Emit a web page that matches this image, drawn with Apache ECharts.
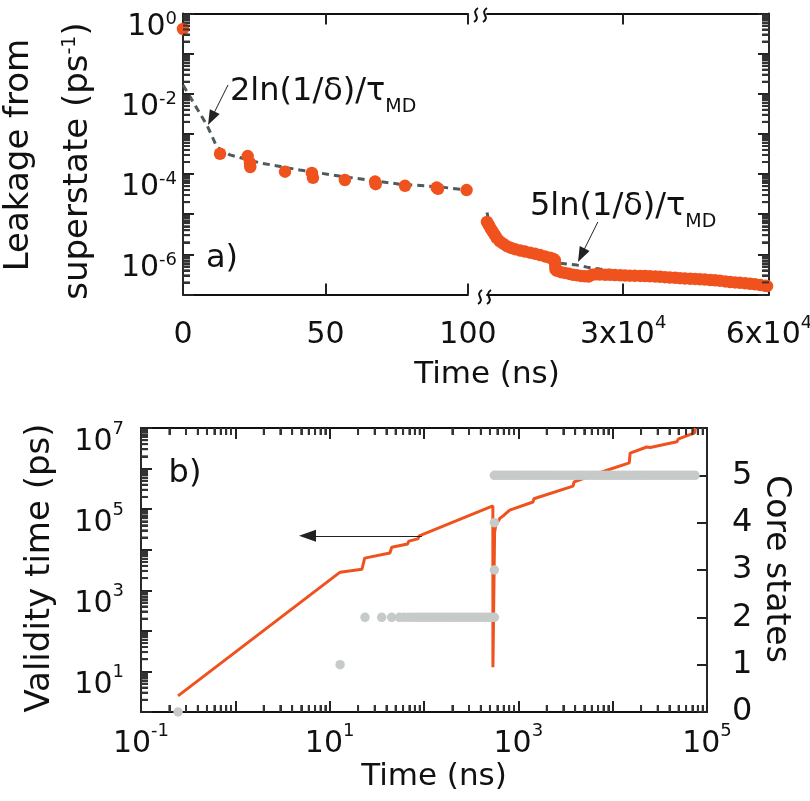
<!DOCTYPE html>
<html><head><meta charset="utf-8">
<script src="https://cdn.jsdelivr.net/npm/echarts@6/dist/echarts.min.js"></script>
<style>html,body{margin:0;padding:0;background:#fff}#c{width:810px;height:801px}</style>
</head><body><div id="c"></div>
<script>
const FONT = 'DejaVu Sans';
const ORANGE = '#f0521e';
const DASH = '#4e5a5d';
const GREY = '#c6cbc9';
const INK = '#111111';

// ---- Panel a, left segment (0-100 ns) ----
const leftDotTime = [0, 13, 22.7, 23.5, 23.6, 35.8, 45.2, 45.6, 56.8, 67.4, 67.6, 77.9, 89, 89.5, 99.5];
const leftDotLeak = [0.41, 3.2e-4, 2.8e-4, 1.9e-4, 1.5e-4, 1.15e-4, 1.07e-4, 8.1e-5, 7.1e-5, 6.5e-5, 5.6e-5, 5.1e-5, 4.6e-5, 4.3e-5, 4.0e-5];
const leftFitTime = [0, 8.4, 11.9, 16.5, 27, 41, 57, 76, 90, 99.5];
const leftFitLeak = [1.65e-2, 1.66e-3, 4.7e-4, 3.0e-4, 1.9e-4, 1.26e-4, 8.5e-5, 5.6e-5, 4.8e-5, 4.0e-5];

// ---- Panel a, right segment (to 6x10^4 ns) ----
const rightDots = [
  [2000,6.4e-6],[2400,5.3e-6],[2800,4.3e-6],[3200,3.6e-6],[3650,3.0e-6],[4050,2.5e-6],[4650,2.1e-6],
  [5300,1.85e-6],[6100,1.6e-6],[6950,1.45e-6],[7750,1.35e-6],[8800,1.25e-6],[9800,1.17e-6],[10850,1.1e-6],
  [11900,1.03e-6],[12900,9.6e-7],[13900,8.9e-7],[14950,8.2e-7],[15550,7.8e-7],[15950,7.2e-7],[16000,6.0e-7],
  [16050,5.0e-7],[16100,4.2e-7],[16400,3.9e-7],[17200,3.6e-7],[18000,3.45e-7],[18800,3.3e-7],[19700,3.1e-7],
  [20500,3.0e-7],[21300,2.9e-7],[22100,2.85e-7],[22900,2.8e-7],[23600,3.1e-7],[24400,3.2e-7],[25200,3.15e-7],
  [26300,3.1e-7],[27300,3.1e-7],[28300,3.05e-7],[29400,3.0e-7],[30400,2.98e-7],[31400,2.95e-7],[32400,2.92e-7],
  [33500,2.9e-7],[34500,2.88e-7],[35500,2.85e-7],[36600,2.8e-7],[37600,2.75e-7],[38600,2.7e-7],[39600,2.65e-7],
  [40700,2.6e-7],[41700,2.55e-7],[42700,2.5e-7],[43800,2.47e-7],[44800,2.45e-7],[45800,2.4e-7],[46800,2.35e-7],
  [47900,2.3e-7],[48900,2.25e-7],[49900,2.2e-7],[51000,2.12e-7],[52000,2.05e-7],[53000,2.0e-7],[54000,1.95e-7],
  [55100,1.9e-7],[56100,1.85e-7],[57100,1.8e-7],[58200,1.72e-7],[59200,1.65e-7],[59600,1.62e-7]
];
const rightFitTime = [2000, 2600, 4000, 7000, 11000, 15000, 17000, 20500, 22600, 25200, 30000, 40000, 50000, 60000];
const rightFitLeak = [1.1e-5, 5.0e-6, 2.6e-6, 1.5e-6, 1.05e-6, 7.6e-7, 6.0e-7, 5.4e-7, 4.8e-7, 4.3e-7, 3.6e-7, 2.8e-7, 2.2e-7, 1.8e-7];
const rightTicks = [30000, 60000];

// annotation arrows [from, to] in data units
const arrowA1 = [[15.8, 1.66e-2], [9.96, 2.45e-3]];
const arrowA2 = [[24800, 6.4e-6], [21400, 9.5e-7]];

// ---- Panel b ----
const validity = [
  [0.247,2.5],[12.9,2800],[22,3300],[23.5,6200],[43.5,8300],[45.5,11500],[67,13800],[69,16300],[86,18500],
  [89,22000],[537,120000],[538,12.6],[560,26000],[575,40000],[640,60000],[660,58000],[700,70000],[810,95000],
  [1430,150000],[1460,180000],[3800,370000],[3900,470000],[8700,910000],[15000,1380000],[15300,2400000],
  [23000,3400000],[25000,3300000],[48000,4600000],[50000,5400000],[74000,7600000],[75000,10000000]
];
const corePoints = [
  [0.247,0],[12.9,1],
  [23.7,2],[35.6,2],[45.4,2],[55,2],[62,2],[69,2],[76,2],[84,2],[92,2],[100,2],[109,2],[118,2],[128,2],[140,2],
  [153,2],[167,2],[183,2],[200,2],[218,2],[238,2],[260,2],[284,2],[310,2],[339,2],[370,2],[404,2],[441,2],
  [482,2],[520,2],[557,2],
  [557,3],[557,4],
  [557,5],[600,5],[650,5],[700,5],[760,5],[830,5],[900,5],[980,5],[1070,5],[1170,5],[1280,5],[1400,5],[1530,5],
  [1670,5],[1830,5],[2000,5],[2200,5],[2400,5],[2650,5],[2900,5],[3200,5],[3500,5],[3850,5],[4200,5],[4600,5],
  [5050,5],[5550,5],[6100,5],[6700,5],[7300,5],[8000,5],[8800,5],[9600,5],[10500,5],[11500,5],[12600,5],
  [13800,5],[15100,5],[16500,5],[18000,5],[19700,5],[21500,5],[23500,5],[25700,5],[28000,5],[30500,5],
  [33500,5],[36500,5],[40000,5],[43500,5],[47500,5],[52000,5],[57000,5],[62000,5],[68000,5],[74600,5]
];
const arrowB = [[95, 2.2e4], [5.82, 2.2e4]];

// minor tick multipliers for the log axes
const minorMult = [2, 3, 4, 5, 6, 7, 8, 9];

const zip = (a, b) => a.map((v, i) => [v, b[i]]);
const expOf = v => Math.round(Math.log10(v));
function logMinor(lo, hi) {
  const out = [];
  for (let e = lo; e < hi; e++) for (const m of minorMult) out.push(m * Math.pow(10, e));
  return out;
}

function richFor(shift) {
  const h = Math.max(0, shift - 6);
  return {
    b: {fontSize: 30, fontFamily: FONT, color: INK, padding: [h, 0, h, 0]},
    s: {fontSize: 18, fontFamily: FONT, color: INK, padding: [0, 0, 2 * shift, 0]}
  };
}
const tickLine = () => ({color: '#222', width: 2});
const minor = () => ({show: true, splitNumber: 9, length: 7, lineStyle: {color: '#333', width: 2}});
function axisBase(extra) {
  return Object.assign({
    axisLine: {show: true, onZero: false, lineStyle: {color: INK, width: 1.8}},
    axisTick: {show: true, inside: true, length: 11, lineStyle: tickLine()},
    splitLine: {show: false},
    axisLabel: {show: false}
  }, extra);
}

function markArrow(pts, size) {
  return {
    silent: true, animation: false,
    symbol: ['none', 'triangle'], symbolSize: size,
    lineStyle: {color: '#222', width: 1, type: 'solid'},
    label: {show: false}, emphasis: {disabled: true},
    data: [[{coord: pts[0]}, {coord: pts[1]}]]
  };
}

function gtext(x, y, text, size, extra) {
  extra = extra || {};
  return {
    type: 'text', x: x, y: y, rotation: extra.rotation || 0, z: 100, silent: true,
    style: {
      text: text, fontSize: size, fontFamily: FONT, fill: INK,
      align: extra.align || 'center', verticalAlign: 'middle',
      textAlign: extra.align || 'center', textVerticalAlign: 'middle',
      rich: extra.rich
    }
  };
}
function wiggle(cx, cy) {
  return {
    type: 'bezierCurve', z: 100, silent: true,
    shape: {x1: cx + 2, y1: cy - 7, x2: cx - 2, y2: cy + 7, cpx1: cx - 6, cpy1: cy - 2, cpx2: cx + 6, cpy2: cy + 2},
    style: {stroke: INK, lineWidth: 2, fill: null}
  };
}
const subRich = {sub: {fontSize: 19, fontFamily: FONT, fill: INK, color: INK, padding: [30, 0, 0, 0]}};
const supRich = {s: {fontSize: 19, fontFamily: FONT, fill: INK, color: INK, padding: [0, 0, 16, 0]}};

const gridOf = g => Object.assign({containLabel: false, outerBoundsMode: 'none'}, g);

const baseGraphics = [
  wiggle(476, 15), wiggle(485, 15), wiggle(480, 297), wiggle(489, 297),
  gtext(19, 155, 'Leakage from', 34, {rotation: Math.PI / 2}),
  gtext(78, 161, 'superstate (ps{s|-1})', 34, {rotation: Math.PI / 2, rich: supRich}),
  gtext(487, 375, 'Time (ns)', 31),
  gtext(222, 259, 'a)', 32),
  gtext(230, 92, '2ln(1/δ)/τ{sub|MD}', 32, {align: 'left', rich: subRich}),
  gtext(530, 207, '5ln(1/δ)/τ{sub|MD}', 32, {align: 'left', rich: subRich}),
  gtext(434, 777, 'Time (ns)', 31),
  gtext(40, 568, 'Validity time (ps)', 34, {rotation: Math.PI / 2}),
  gtext(776, 569, 'Core states', 33, {rotation: -Math.PI / 2}),
  gtext(185, 474, 'b)', 32)
];

const chart = echarts.init(document.getElementById('c'), null, {renderer: 'canvas'});
chart.setOption({
  animation: false,
  backgroundColor: '#ffffff',
  textStyle: {fontFamily: FONT},
  grid: [
    gridOf({left: 183, top: 13.5, width: 285, height: 281}),
    gridOf({left: 487, top: 13.5, width: 282, height: 281}),
    gridOf({left: 141, top: 428, width: 566, height: 284})
  ],
  xAxis: [
    axisBase({gridIndex: 0, type: 'value', min: 0, max: 100, interval: 50, position: 'bottom',
      axisLabel: {show: true, margin: 20, formatter: v => '{b|' + v + '}', rich: richFor(12)}}),
    axisBase({gridIndex: 0, type: 'value', min: 0, max: 100, interval: 50, position: 'top'}),
    axisBase({gridIndex: 1, type: 'value', min: 2000, max: 60000, position: 'bottom',
      axisTick: {show: true, inside: true, length: 11, lineStyle: tickLine(), customValues: rightTicks},
      axisLabel: {show: true, margin: 20, customValues: rightTicks,
        formatter: v => '{b|' + (v / 1e4) + 'x10}{s|4}', rich: richFor(12)}}),
    axisBase({gridIndex: 1, type: 'value', min: 2000, max: 60000, position: 'top',
      axisTick: {show: true, inside: true, length: 11, lineStyle: tickLine(), customValues: rightTicks}}),
    axisBase({gridIndex: 2, type: 'log', min: 0.1, max: 1e5, position: 'bottom', minorTick: minor(),
      axisLabel: {show: true, margin: 10, rich: richFor(13),
        formatter: v => { const e = expOf(v); return Math.abs(e % 2) === 1 ? '{b|10}{s|' + e + '}' : ''; }}}),
    axisBase({gridIndex: 2, type: 'log', min: 0.1, max: 1e5, position: 'top', minorTick: minor()})
  ],
  yAxis: [
    axisBase({gridIndex: 0, type: 'log', min: 1e-7, max: 1, position: 'left', minorTick: minor(),
      axisLabel: {show: true, margin: 6, padding: [27, 0, 0, 0], rich: richFor(8),
        formatter: v => { const e = expOf(v); return e % 2 === 0 ? '{b|10}{s|' + e + '}' : ''; }}}),
    axisBase({gridIndex: 1, type: 'log', min: 1e-7, max: 1, position: 'right', minorTick: minor()}),
    axisBase({gridIndex: 2, type: 'log', min: 1, max: 1e7, position: 'left', minorTick: minor(),
      axisLabel: {show: true, margin: 17, padding: [28, 0, 0, 0], rich: richFor(13),
        formatter: v => { const e = expOf(v); return Math.abs(e % 2) === 1 ? '{b|10}{s|' + e + '}' : ''; }}}),
    axisBase({gridIndex: 2, type: 'value', min: 0, max: 6, interval: 1, position: 'right',
      axisTick: {show: true, inside: true, length: 10, lineStyle: tickLine()},
      axisLabel: {show: true, margin: 25, fontSize: 32, fontFamily: FONT, color: INK,
        formatter: v => (v <= 5 ? String(v) : '')}})
  ],
  series: [
    {type: 'line', xAxisIndex: 0, yAxisIndex: 0, data: zip(leftFitTime, leftFitLeak), symbol: 'none',
      lineStyle: {color: DASH, width: 3, type: [7, 5]}, z: 2, markLine: markArrow(arrowA1, [11, 15])},
    {type: 'scatter', xAxisIndex: 0, yAxisIndex: 0, data: zip(leftDotTime, leftDotLeak), symbolSize: 12.5,
      itemStyle: {color: ORANGE, opacity: 1}, z: 3, clip: false},
    {type: 'line', xAxisIndex: 2, yAxisIndex: 1, data: zip(rightFitTime, rightFitLeak), symbol: 'none',
      lineStyle: {color: DASH, width: 3, type: [7, 5]}, z: 2, markLine: markArrow(arrowA2, [11, 15])},
    {type: 'scatter', xAxisIndex: 2, yAxisIndex: 1, data: rightDots, symbolSize: 12.5,
      itemStyle: {color: ORANGE, opacity: 1}, z: 3, clip: false},
    {type: 'line', xAxisIndex: 4, yAxisIndex: 2, data: validity, symbol: 'none',
      lineStyle: {color: ORANGE, width: 3}, z: 2, markLine: markArrow(arrowB, [12, 17])},
    {type: 'scatter', xAxisIndex: 4, yAxisIndex: 3, data: corePoints, symbolSize: 9.5,
      itemStyle: {color: GREY, opacity: 1}, z: 3, clip: false}
  ],
  graphic: baseGraphics
});

// Minor log ticks as filled rects, placed through the axes' own scales
const tickEls = [];
const TL = 7, TW = 2;
const rectEl = (x, y, w, h) => ({type: 'rect', z: 60, silent: true, shape: {x: x, y: y, width: w, height: h}, style: {fill: '#333'}});
const px = (xi, yi, pt) => chart.convertToPixel({xAxisIndex: xi, yAxisIndex: yi}, pt);
try {
  logMinor(-7, 0).forEach(v => { const p = px(0, 0, [0, v]); tickEls.push(rectEl(p[0], p[1] - TW / 2, TL, TW)); });
  logMinor(-7, 0).forEach(v => { const p = px(2, 1, [60000, v]); tickEls.push(rectEl(p[0] - TL, p[1] - TW / 2, TL, TW)); });
  logMinor(-1, 5).forEach(v => {
    const b = px(4, 2, [v, 1]); const t = px(4, 2, [v, 1e7]);
    tickEls.push(rectEl(b[0] - TW / 2, b[1] - TL, TW, TL));
    tickEls.push(rectEl(t[0] - TW / 2, t[1], TW, TL));
  });
  logMinor(0, 7).forEach(v => { const p = px(4, 2, [0.1, v]); tickEls.push(rectEl(p[0], p[1] - TW / 2, TL, TW)); });
  chart.setOption({graphic: baseGraphics.concat(tickEls)});
} catch (e) { /* keep base chart */ }
</script>
</body></html>
